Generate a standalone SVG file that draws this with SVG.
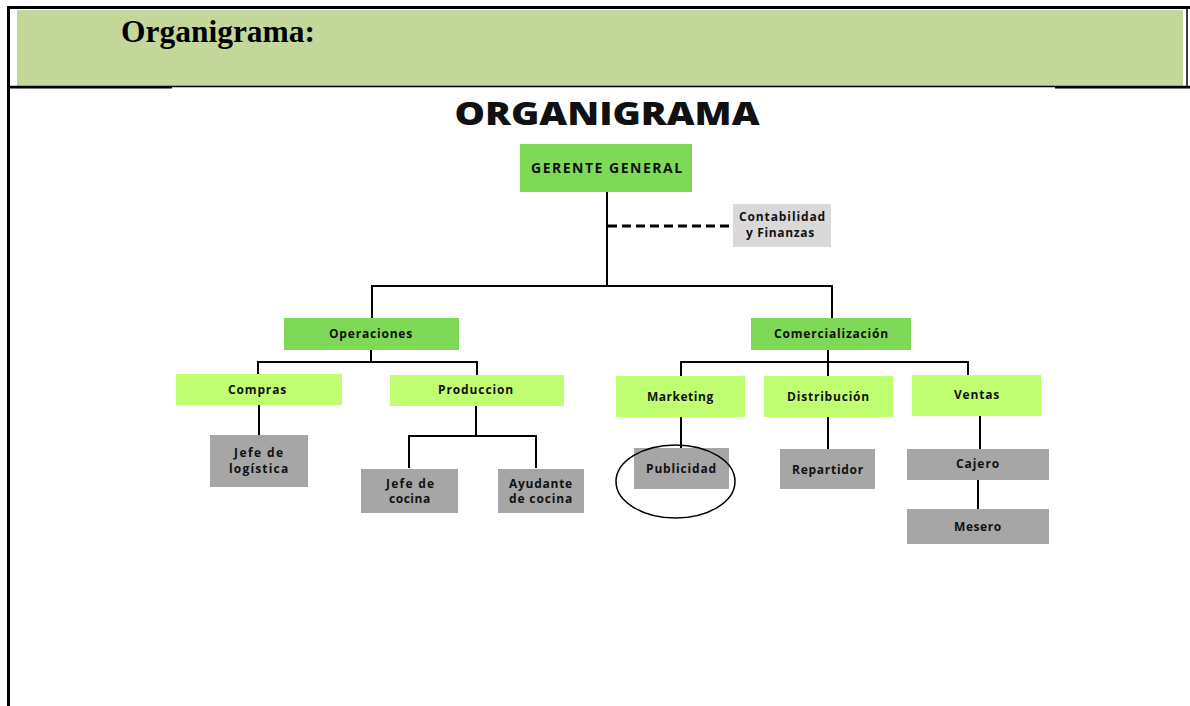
<svg xmlns="http://www.w3.org/2000/svg" width="1190" height="706" viewBox="0 0 1190 706">
<style>
  .frame { stroke: #000; fill: none; }
  .ln { stroke: #000; stroke-width: 2; fill: none; }
  .dash { stroke: #000; stroke-width: 3; stroke-dasharray: 9 5; fill: none; }
  .t { font-family: "Open Sans", "DejaVu Sans", sans-serif; font-weight: 700; font-size: 12px; letter-spacing: 0.8px; fill: #111; text-anchor: middle; }
  .big { font-size: 14px; }
  .dark { fill: #7ed957; }
  .light { fill: #c1ff72; }
  .grey { fill: #a6a6a6; }
  .lgrey { fill: #d9d9d9; }
</style>
<rect x="0" y="0" width="1190" height="706" fill="#ffffff"/>
<!-- header table -->
<rect x="17" y="10" width="1166" height="76" fill="#c4d79b"/>
<line class="frame" x1="7" y1="7.5" x2="1190" y2="7.5" stroke-width="3"/>
<line class="frame" x1="8.5" y1="6" x2="8.5" y2="706" stroke-width="3"/>
<line class="frame" x1="1187" y1="9" x2="1187" y2="86" stroke-width="1.5"/>
<line class="frame" x1="7" y1="86.5" x2="1190" y2="86.5" stroke-width="1.5"/>
<line class="frame" x1="7" y1="87.5" x2="172" y2="87.5" stroke-width="2"/>
<line class="frame" x1="1055" y1="87.5" x2="1190" y2="87.5" stroke-width="2"/>
<text x="121" y="42" font-family="Liberation Serif, serif" font-weight="700" font-size="31.5" textLength="194" lengthAdjust="spacingAndGlyphs" fill="#000">Organigrama:</text>

<text x="607" y="125" font-family="Open Sans, DejaVu Sans, sans-serif" font-weight="800" font-size="31" text-anchor="middle" textLength="305" lengthAdjust="spacingAndGlyphs" fill="#111">ORGANIGRAMA</text>

<g id="connectors">
  <line class="ln" x1="607" y1="192" x2="607" y2="286"/>
  <line class="dash" x1="608" y1="226" x2="733" y2="226"/>
  <polyline class="ln" points="372,318 372,286 832,286 832,318"/>
  <line class="ln" x1="371" y1="350" x2="371" y2="362"/>
  <polyline class="ln" points="258,374 258,362 477,362 477,375"/>
  <line class="ln" x1="259" y1="405" x2="259" y2="435"/>
  <line class="ln" x1="476" y1="406" x2="476" y2="436"/>
  <polyline class="ln" points="409,468 409,436 536,436 536,468"/>
  <line class="ln" x1="828" y1="350" x2="828" y2="376"/>
  <polyline class="ln" points="681,376 681,362 968,362 968,375"/>
  <line class="ln" x1="681" y1="417" x2="681" y2="448"/>
  <line class="ln" x1="828" y1="417" x2="828" y2="449"/>
  <line class="ln" x1="980" y1="416" x2="980" y2="449"/>
  <line class="ln" x1="978" y1="480" x2="978" y2="509"/>
</g>

<g id="gerente"><rect class="dark" x="520" y="144" width="172" height="48"/><text class="t big" x="607" y="173" textLength="152" lengthAdjust="spacing">GERENTE GENERAL</text></g>
<g id="contabilidad"><rect class="lgrey" x="733" y="204" width="98" height="43"/><text class="t" x="782.5" y="221" textLength="87" lengthAdjust="spacing">Contabilidad</text><text class="t" x="780.5" y="237" textLength="69" lengthAdjust="spacing">y Finanzas</text></g>
<g id="operaciones"><rect class="dark" x="284" y="318" width="175" height="32"/><text class="t" x="371" y="338" textLength="84" lengthAdjust="spacing">Operaciones</text></g>
<g id="comercializacion"><rect class="dark" x="751" y="318" width="160" height="32"/><text class="t" x="831.5" y="338" textLength="115" lengthAdjust="spacing">Comercialización</text></g>
<g id="compras"><rect class="light" x="176" y="374" width="166" height="31"/><text class="t" x="257.5" y="394" textLength="59" lengthAdjust="spacing">Compras</text></g>
<g id="produccion"><rect class="light" x="390" y="375" width="174" height="31"/><text class="t" x="476" y="394" textLength="76" lengthAdjust="spacing">Produccion</text></g>
<g id="jefe-logistica"><rect class="grey" x="210" y="435" width="98" height="52"/><text class="t" x="259" y="457" textLength="50" lengthAdjust="spacing">Jefe de</text><text class="t" x="259" y="473" textLength="60" lengthAdjust="spacing">logística</text></g>
<g id="jefe-cocina"><rect class="grey" x="361" y="469" width="97" height="44"/><text class="t" x="410.5" y="488" textLength="49" lengthAdjust="spacing">Jefe de</text><text class="t" x="410" y="503" textLength="42" lengthAdjust="spacing">cocina</text></g>
<g id="ayudante-cocina"><rect class="grey" x="498" y="469" width="86" height="44"/><text class="t" x="541" y="488" textLength="64" lengthAdjust="spacing">Ayudante</text><text class="t" x="541" y="503" textLength="64" lengthAdjust="spacing">de cocina</text></g>
<g id="marketing"><rect class="light" x="616" y="376" width="129" height="41"/><text class="t" x="680.5" y="401" textLength="67" lengthAdjust="spacing">Marketing</text></g>
<g id="distribucion"><rect class="light" x="764" y="376" width="129" height="41"/><text class="t" x="828.5" y="401" textLength="83" lengthAdjust="spacing">Distribución</text></g>
<g id="ventas"><rect class="light" x="912" y="375" width="129" height="41"/><text class="t" x="977" y="399" textLength="46" lengthAdjust="spacing">Ventas</text></g>
<g id="publicidad"><rect class="grey" x="634" y="448" width="95" height="41"/><text class="t" x="681.5" y="473" textLength="71" lengthAdjust="spacing">Publicidad</text><ellipse cx="675.5" cy="481.5" rx="59.5" ry="36.5" fill="none" stroke="#000" stroke-width="1.5"/></g>
<g id="repartidor"><rect class="grey" x="780" y="449" width="95" height="40"/><text class="t" x="828" y="474" textLength="72" lengthAdjust="spacing">Repartidor</text></g>
<g id="cajero"><rect class="grey" x="907" y="449" width="142" height="31"/><text class="t" x="978" y="468" textLength="44" lengthAdjust="spacing">Cajero</text></g>
<g id="mesero"><rect class="grey" x="907" y="509" width="142" height="35"/><text class="t" x="978" y="531" textLength="48" lengthAdjust="spacing">Mesero</text></g>
</svg>
